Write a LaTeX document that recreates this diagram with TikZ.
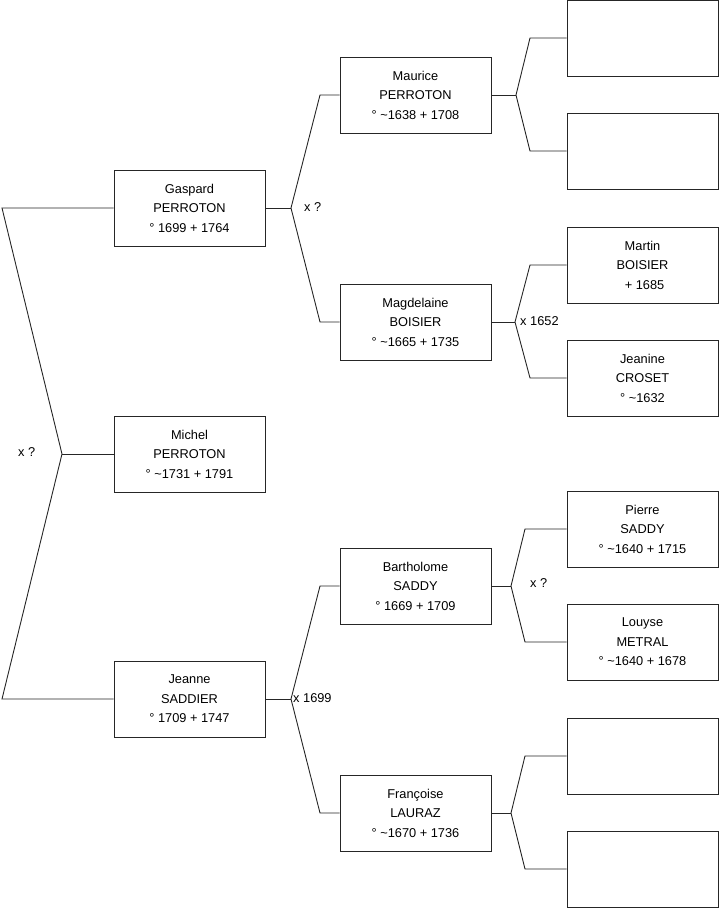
\documentclass[tikz,border=0pt]{standalone}
\usepackage{fontspec}
\setmainfont{Liberation Sans}
\begin{document}
\begin{tikzpicture}[x=1pt,y=-1pt,
  person/.style={draw=black!85,line width=0.9pt,minimum width=151pt,minimum height=76pt,
    inner sep=0pt,align=center,font=\fontsize{12.8}{19.5}\selectfont,fill=white},
  link/.style={draw=black!85,line width=0.9pt},
  lab/.style={anchor=west,inner sep=0pt,font=\fontsize{12.8}{14}\selectfont}]
\useasboundingbox (0,0) rectangle (719,908);
% generation 1
\node[person] (mich) at (189.5,454) {Michel\\PERROTON\\° \textasciitilde1731 + 1791};
% generation 2
\node[person] (gasp) at (189.5,208) {Gaspard\\PERROTON\\° 1699 + 1764};
\node[person] (jean) at (189.5,699) {Jeanne\\SADDIER\\° 1709 + 1747};
% generation 3
\node[person] (maur) at (415.5,95) {Maurice\\PERROTON\\° \textasciitilde1638 + 1708};
\node[person] (magd) at (415.5,322) {Magdelaine\\BOISIER\\° \textasciitilde1665 + 1735};
\node[person] (bart) at (415.5,586) {Bartholome\\SADDY\\° 1669 + 1709};
\node[person] (fran) at (415.5,813) {Françoise\\LAURAZ\\° \textasciitilde1670 + 1736};
% generation 4
\node[person] (r1) at (642.5,38) {};
\node[person] (r2) at (642.5,151) {};
\node[person] (mart) at (642.5,265) {Martin\\BOISIER\\\hspace*{4pt}+ 1685};
\node[person] (jnin) at (642.5,378) {Jeanine\\CROSET\\° \textasciitilde1632};
\node[person] (pier) at (642.5,529) {Pierre\\SADDY\\° \textasciitilde1640 + 1715};
\node[person] (louy) at (642.5,642) {Louyse\\METRAL\\° \textasciitilde1640 + 1678};
\node[person] (r7) at (642.5,756) {};
\node[person] (r8) at (642.5,869) {};
% joints and bends
\coordinate (j0) at (62,454);
\coordinate (b0a) at (2,208);
\coordinate (b0b) at (2,699);
\coordinate (j1) at (291,208);
\coordinate (b1a) at (320,95);
\coordinate (b1b) at (320,322);
\coordinate (j2) at (291,699);
\coordinate (b2a) at (320,586);
\coordinate (b2b) at (320,813);
\coordinate (j3) at (516,95);
\coordinate (b3a) at (530,38);
\coordinate (b3b) at (530,151);
\coordinate (j4) at (515,322);
\coordinate (b4a) at (530,265);
\coordinate (b4b) at (530,378);
\coordinate (j5) at (511,586);
\coordinate (b5a) at (525,529);
\coordinate (b5b) at (525,642);
\coordinate (j6) at (511,813);
\coordinate (b6a) at (525,756);
\coordinate (b6b) at (525,869);
% connectors
\draw[link] (mich.west) -- (j0);
\draw[link] (gasp.west) -- (b0a) -- (j0) -- (b0b) -- (jean.west);
\draw[link] (gasp.east) -- (j1);
\draw[link] (maur.west) -- (b1a) -- (j1) -- (b1b) -- (magd.west);
\draw[link] (jean.east) -- (j2);
\draw[link] (bart.west) -- (b2a) -- (j2) -- (b2b) -- (fran.west);
\draw[link] (maur.east) -- (j3);
\draw[link] (r1.west) -- (b3a) -- (j3) -- (b3b) -- (r2.west);
\draw[link] (magd.east) -- (j4);
\draw[link] (mart.west) -- (b4a) -- (j4) -- (b4b) -- (jnin.west);
\draw[link] (bart.east) -- (j5);
\draw[link] (pier.west) -- (b5a) -- (j5) -- (b5b) -- (louy.west);
\draw[link] (fran.east) -- (j6);
\draw[link] (r7.west) -- (b6a) -- (j6) -- (b6b) -- (r8.west);
% marriage labels
\node[lab] (m0) at (18,452) {x ?};
\node[lab] (m1) at (304,207) {x ?};
\node[lab] (m2) at (293,698) {x 1699};
\node[lab] (m3) at (520,321) {x 1652};
\node[lab] (m4) at (530,583) {x ?};
\end{tikzpicture}
\end{document}
